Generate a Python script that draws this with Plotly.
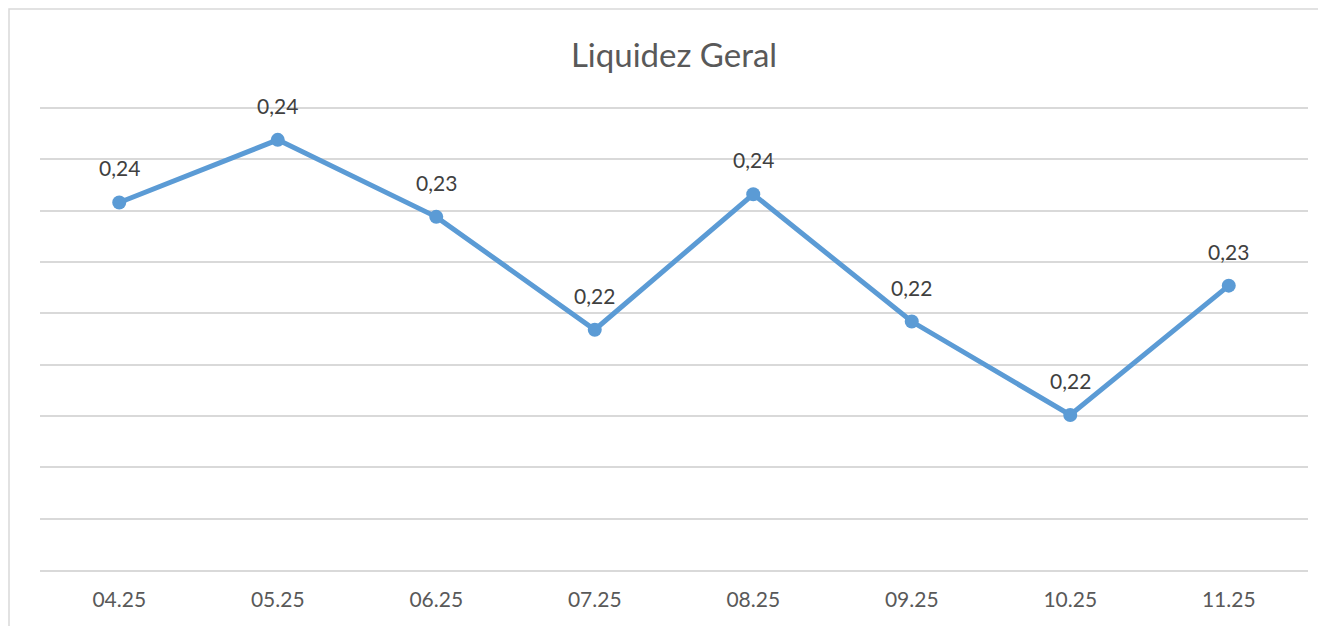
import plotly.graph_objects as go

categories = ["04.25", "05.25", "06.25", "07.25", "08.25", "09.25", "10.25", "11.25"]
values = [0.2358, 0.2419, 0.2344, 0.2234, 0.2366, 0.2242, 0.2151, 0.2277]

LINE = "#5B9BD5"
GRID = "#D9D9D9"
FONT = "Lato, Calibri, Carlito, sans-serif"

# page body has an 8px margin; compensate so the plot area lands at x 40..1308, y 107..570
W, H = 1318, 618
L, R, T, B = 32, 18, 99, 56
PW, PH = W - L - R, H - T - B

fig = go.Figure()
fig.add_trace(go.Scatter(
    x=categories, y=values,
    mode="lines+markers",
    line=dict(color=LINE, width=5),
    marker=dict(color=LINE, size=14),
    cliponaxis=False,
    hoverinfo="x+y",
))

# data labels: category axis positions are the category indices
for i, v in enumerate(values):
    fig.add_annotation(
        x=i, y=v, text=f"{v:.2f}".replace(".", ","),
        showarrow=False, yanchor="bottom", yshift=20,
        font=dict(family=FONT, size=21, color="#404040"),
    )

fig.update_layout(
    width=W, height=H,
    paper_bgcolor="white", plot_bgcolor="white",
    separators=",.",
    margin=dict(l=L, r=R, t=T, b=B),
    showlegend=False,
    title=dict(text="Liquidez Geral", x=(L + PW / 2) / W, xanchor="center",
               y=1 - 47 / H, yanchor="middle",
               font=dict(family=FONT, size=33, color="#595959")),
    xaxis=dict(
        type="category", range=[-0.5, 7.5],
        showgrid=False, zeroline=False,
        showline=True, linecolor=GRID, linewidth=1.5,
        ticks="", tickfont=dict(family=FONT, size=21, color="#595959"),
        ticklabelstandoff=10,
    ),
    yaxis=dict(
        range=[0.2, 0.2451], dtick=0.005, tick0=0.2,
        showgrid=True, gridcolor=GRID, gridwidth=1.5,
        zeroline=False, showticklabels=False, ticks="",
    ),
    shapes=[dict(
        type="rect", xref="paper", yref="paper",
        x0=(1 - L) / PW, x1=1.05, y0=-0.3, y1=1 + (T - 1) / PH,
        line=dict(color=GRID, width=1.5), fillcolor="rgba(0,0,0,0)", layer="below",
    )],
)

fig.write_html("out.html")
